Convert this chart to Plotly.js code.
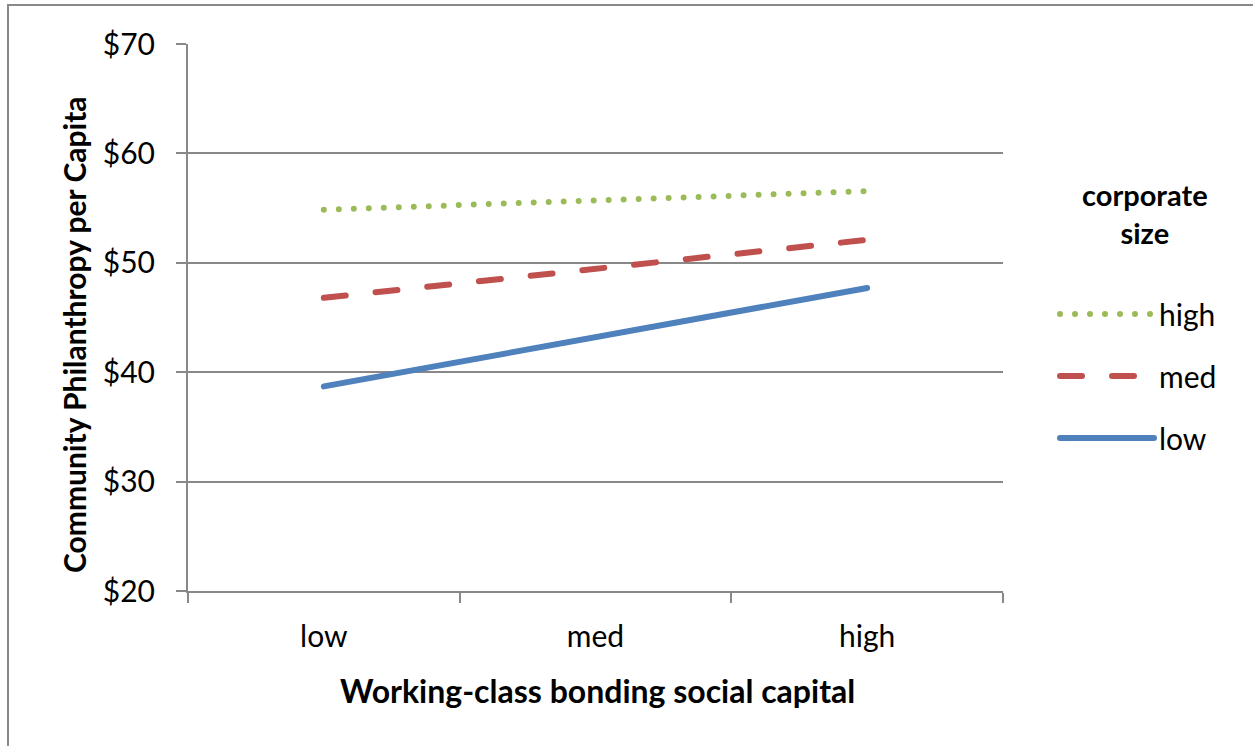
<!DOCTYPE html>
<html>
<head>
<meta charset="utf-8">
<script src="https://cdn.plot.ly/plotly-3.0.1.min.js"></script>
<style>
html,body{margin:0;padding:0;background:#fff;}
#chart{width:1253px;height:746px;}
#chart .scatterlayer path.js-line, #chart .legendlines path{stroke-linecap:round;}
</style>
</head>
<body>
<div id="chart"></div>
<script>
const categories = ["low", "med", "high"];
const seriesNames = ["high", "med", "low"];
const highValues = [54.85, 55.7, 56.55];
const medValues = [46.8, 49.45, 52.1];
const lowValues = [38.7, 43.2, 47.7];
const yTicks = [20, 30, 40, 50, 60, 70];
const yTickText = yTicks.map(v => "$" + v);
const legendTitle = "corporate<br>size";
const xTitle = "Working-class bonding social capital";
const yTitle = "Community Philanthropy per Capita";

const FONT = "Lato, 'Open Sans', sans-serif";
const W = 1253, H = 746;
const L = 188, R = 1253 - 1003, T = 44, B = 746 - 591;
const pw = W - L - R, ph = H - T - B;
const px = v => (v - L) / pw;
const py = v => 1 - (v - T) / ph;

const traces = [
  {x: categories, y: highValues, name: seriesNames[0], legendgroup: "g1", mode: "lines",
   line: {color: "#9BBB59", width: 6, dash: "0px,15px"}},
  {x: categories, y: medValues, name: seriesNames[1], legendgroup: "g2", mode: "lines",
   line: {color: "#C0504D", width: 6, dash: "22px,30px"}},
  {x: categories, y: lowValues, name: seriesNames[2], legendgroup: "g3", mode: "lines",
   line: {color: "#4F81BD", width: 6}}
];

const layout = {
  width: W, height: H,
  margin: {l: L, r: R, t: T, b: B, pad: 0},
  paper_bgcolor: "#fff", plot_bgcolor: "#fff",
  font: {family: FONT, size: 30, color: "#000"},
  showlegend: true,
  legend: {
    x: px(1055), y: py(288), xanchor: "left", yanchor: "top",
    traceorder: "grouped", tracegroupgap: 20, itemwidth: 94,
    font: {family: FONT, size: 30, color: "#000"},
    bgcolor: "rgba(0,0,0,0)"
  },
  xaxis: {
    type: "category", range: [-0.5, 2.5], tickson: "boundaries",
    ticks: "outside", ticklen: 10, tickwidth: 2, tickcolor: "#888",
    showline: true, linecolor: "#888", linewidth: 2,
    showgrid: false, zeroline: false, ticklabelstandoff: 18,
    tickfont: {family: FONT, size: 30, color: "#000"},
    automargin: false, fixedrange: true
  },
  yaxis: {
    range: [20, 70], tickmode: "array", tickvals: yTicks, ticktext: yTickText,
    ticks: "outside", ticklen: 10, tickwidth: 2, tickcolor: "#888",
    showline: true, linecolor: "#888", linewidth: 2,
    showgrid: true, gridcolor: "#888", gridwidth: 2, zeroline: false,
    ticklabelstandoff: 15,
    tickfont: {family: FONT, size: 30, color: "#000"},
    automargin: false, fixedrange: true
  },
  annotations: [
    {text: "<b>" + xTitle + "</b>", xref: "paper", yref: "paper", x: px(597), y: py(690),
     xanchor: "center", yanchor: "middle", showarrow: false,
     font: {family: FONT, size: 32, color: "#000"}},
    {text: "<b>" + yTitle + "</b>", xref: "paper", yref: "paper", x: px(74), y: py(335),
     xanchor: "center", yanchor: "middle", showarrow: false, textangle: -90,
     font: {family: FONT, size: 30, color: "#000"}},
    {text: "<b>" + legendTitle + "</b>", xref: "paper", yref: "paper", x: px(1145), y: py(214),
     xanchor: "center", yanchor: "middle", align: "center", showarrow: false,
     font: {family: FONT, size: 29, color: "#000"}}
  ],
  shapes: [{
    type: "rect", xref: "paper", yref: "paper",
    x0: px(8), x1: px(1300), y0: py(800), y1: py(5),
    line: {color: "#888", width: 2}, fillcolor: "rgba(0,0,0,0)", layer: "below"
  }]
};

Plotly.newPlot("chart", traces, layout, {displayModeBar: false, staticPlot: true});
</script>
</body>
</html>
